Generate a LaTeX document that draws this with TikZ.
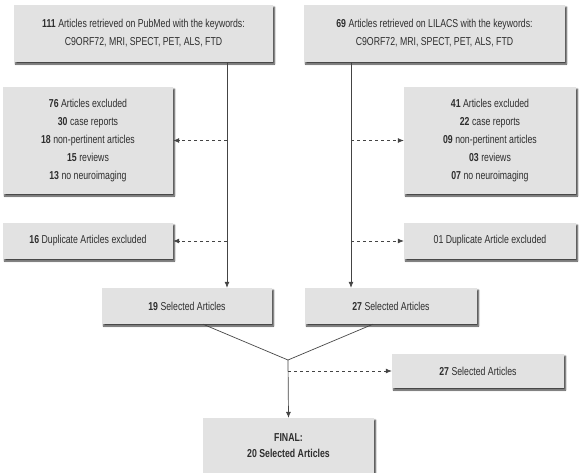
\documentclass[tikz,border=0pt]{standalone}
\usepackage{fontspec}
\setmainfont{Liberation Sans}[FakeStretch=0.76]
\usetikzlibrary{arrows.meta,shadows.blur}
\definecolor{boxfill}{HTML}{E2E2E2}
\definecolor{txt}{HTML}{2E2E2E}
\definecolor{ln}{HTML}{444444}
\begin{document}
\begin{tikzpicture}[x=1pt,y=-1pt,
  box/.style={fill=boxfill, draw=none, align=center, text=txt, inner sep=0pt,
    font=\fontsize{11.5}{18}\selectfont,
    blur shadow={shadow xshift=1.5pt, shadow yshift=-2pt, shadow blur steps=5, shadow blur radius=1.5pt, shadow opacity=75}},
  arr/.style={draw=ln, line width=0.7pt, -{Latex[length=6pt,width=5pt]}},
  dasharr/.style={arr, dash pattern=on 3pt off 3pt}]
\useasboundingbox (0,0) rectangle (579,472);
\begin{scope}
\clip (0,0) rectangle (579,472);
\node[box, minimum width=259, minimum height=57] (pub) at (143.5,33.5)
  {\textbf{111} Articles retrieved on PubMed with the keywords:\\C9ORF72, MRI, SPECT, PET, ALS, FTD};
\node[box, minimum width=261, minimum height=57] (lil) at (434.5,33.5)
  {\textbf{69} Articles retrieved on LILACS with the keywords:\\C9ORF72, MRI, SPECT, PET, ALS, FTD};
\node[box, minimum width=170, minimum height=107] (excL) at (88,140.5)
  {\textbf{76} Articles excluded\\\textbf{30} case reports\\\textbf{18} non-pertinent articles\\\textbf{15} reviews\\\textbf{13} no neuroimaging};
\node[box, minimum width=170, minimum height=36] (dupL) at (88,241)
  {\textbf{16} Duplicate Articles excluded};
\node[box, minimum width=172, minimum height=107] (excR) at (490,140.5)
  {\textbf{41} Articles excluded\\\textbf{22} case reports\\\textbf{09} non-pertinent articles\\\textbf{03} reviews\\\textbf{07} no neuroimaging};
\node[box, minimum width=172, minimum height=36] (dupR) at (490,241)
  {01 Duplicate Article excluded};
\node[box, minimum width=170, minimum height=36] (sel19) at (187,306)
  {\textbf{19} Selected Articles};
\node[box, minimum width=172, minimum height=36] (sel27) at (391,306)
  {\textbf{27} Selected Articles};
\node[box, minimum width=172, minimum height=34] (sel27b) at (478,371)
  {\textbf{27} Selected Articles};
\node[box, minimum width=171, minimum height=56, font=\bfseries\fontsize{11.5}{16}\selectfont] (final) at (288.5,446)
  {FINAL:\\20 Selected Articles};
\end{scope}
\coordinate (xL) at (227,0);
\coordinate (xR) at (351,0);
\coordinate (J) at (288,360);
\coordinate (D) at (288,371);
\draw[arr] (pub.south -| xL) -- (sel19.north -| xL);
\draw[arr] (lil.south -| xR) -- (sel27.north -| xR);
\draw[dasharr] (excL.east -| xL) -- (excL.east);
\draw[dasharr] (dupL.east -| xL) -- (dupL.east);
\draw[dasharr] (excR.west -| xR) -- (excR.west);
\draw[dasharr] (dupR.west -| xR) -- (dupR.west);
\draw[draw=ln, line width=0.7pt] (sel19.south -| 203,0) -- (J) -- (sel27.south -| 373,0);
\draw[arr] (J) -- (final.north);
\draw[dasharr] (D) -- (sel27b.west);
\end{tikzpicture}
\end{document}
